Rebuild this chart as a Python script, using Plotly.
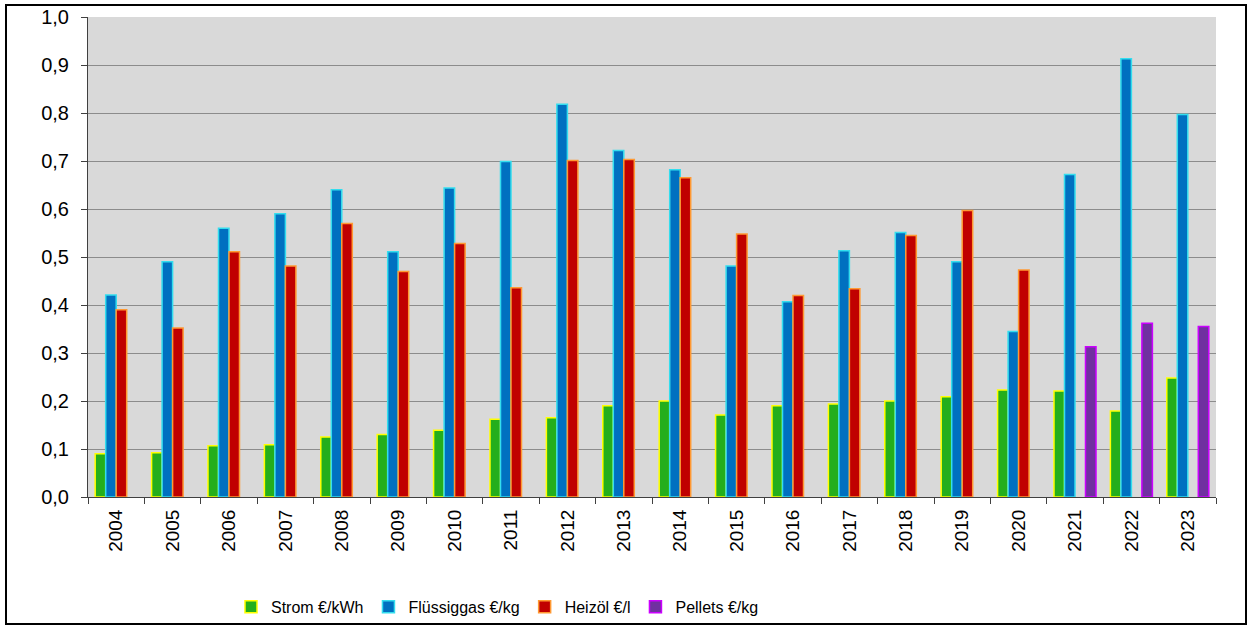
import plotly.graph_objects as go

years = [str(y) for y in range(2004, 2024)]
strom = [0.090, 0.092, 0.107, 0.109, 0.125, 0.130, 0.139, 0.162, 0.165, 0.190,
         0.200, 0.171, 0.190, 0.194, 0.200, 0.209, 0.223, 0.221, 0.179, 0.248]
fluessiggas = [0.421, 0.490, 0.560, 0.590, 0.640, 0.511, 0.644, 0.699, 0.818, 0.722,
               0.682, 0.481, 0.407, 0.513, 0.551, 0.490, 0.345, 0.672, 0.913, 0.797]
heizoel = [0.390, 0.352, 0.511, 0.481, 0.570, 0.470, 0.528, 0.436, 0.701, 0.703,
           0.665, 0.548, 0.420, 0.434, 0.545, 0.597, 0.473, None, None, None]
pellets = [None] * 17 + [0.313, 0.362, 0.355]

series = [
    ("Strom €/kWh", strom, "#24AE1C", "#FFFF00"),
    ("Flüssiggas €/kg", fluessiggas, "#0070C0", "#33DDEE"),
    ("Heizöl €/l", heizoel, "#C00000", "#FF9933"),
    ("Pellets €/kg", pellets, "#7030A0", "#CC00FF"),
]

fig = go.Figure()
for name, vals, fill, edge in series:
    fig.add_trace(go.Bar(
        x=years, y=vals, name=name,
        marker=dict(color=fill, line=dict(color=edge, width=1.5)),
    ))

font_main = "Liberation Sans, Arial, sans-serif"
fig.update_layout(
    width=1250, height=626,
    margin=dict(l=88, r=34, t=17, b=129, autoexpand=False),
    paper_bgcolor="white",
    plot_bgcolor="#D9D9D9",
    barmode="group",
    bargap=0.255,
    bargroupgap=0,
    separators=",.",
    font=dict(family=font_main, size=19, color="black"),
    showlegend=True,
    legend=dict(
        orientation="h",
        xref="container", yref="container",
        x=0.1848, xanchor="left",
        y=0.0304, yanchor="middle",
        font=dict(family=font_main, size=16, color="black"),
        itemwidth=30,
        bgcolor="rgba(0,0,0,0)",
    ),
    xaxis=dict(
        type="category",
        tickangle=-90,
        ticks="outside", ticklen=6, tickcolor="#404040",
        tickson="boundaries",
        showline=True, linecolor="#404040", linewidth=1,
        showgrid=False,
        tickfont=dict(size=19),
        ticklabelstandoff=4,
    ),
    yaxis=dict(
        range=[0, 1],
        dtick=0.1,
        tickformat=".1f",
        ticks="outside", ticklen=6, tickcolor="#404040",
        showline=True, linecolor="#404040", linewidth=1,
        showgrid=True, gridcolor="#8C8C8C", gridwidth=1,
        zeroline=False,
        tickfont=dict(size=20),
        ticklabelstandoff=8,
    ),
)

# outer frame around the whole chart
pw, ph = 1250 - 88 - 34, 626 - 17 - 129
def px_x(p):
    return (p - 88) / pw
def px_y(p):
    return (626 - 129 - p) / ph

fig.add_shape(type="rect", xref="paper", yref="paper",
              x0=px_x(6), x1=px_x(1246), y0=px_y(624), y1=px_y(5),
              line=dict(color="black", width=2), fillcolor="rgba(0,0,0,0)",
              layer="above")

post = """
var css = 'margin:0;padding:0;overflow:hidden;width:1250px;height:626px;';
document.documentElement.style.cssText = css;
document.body.style.cssText = css;
var gd = document.getElementById('{plot_id}');
gd.style.position = 'absolute';
gd.style.left = '0px';
gd.style.top = '0px';
"""
fig.write_html("out.html", post_script=post,
               config={"displayModeBar": False})
